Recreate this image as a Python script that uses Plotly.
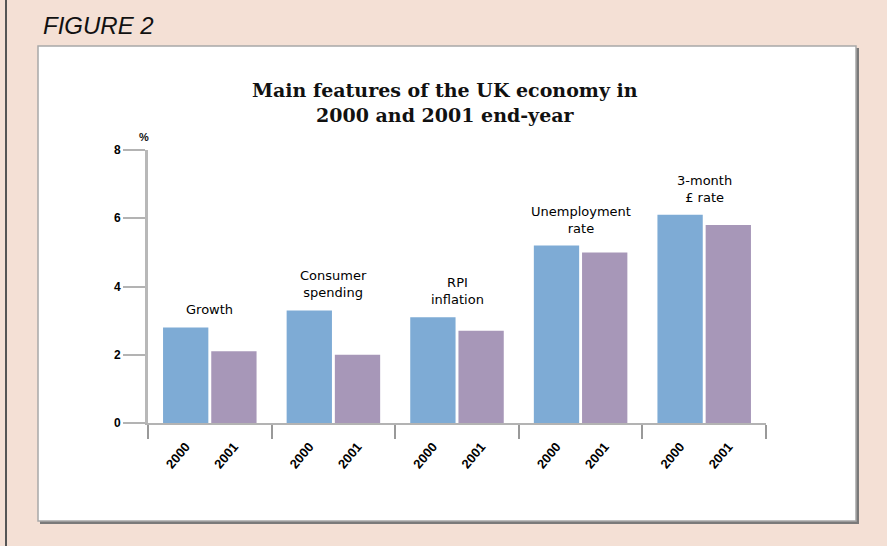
import plotly.graph_objects as go

categories = ["Growth", "Consumer<br>spending", "RPI<br>inflation", "Unemployment<br>rate", "3-month<br>£ rate"]
years = ["2000", "2001"]
values_2000 = [2.8, 3.3, 3.1, 5.2, 6.1]
values_2001 = [2.1, 2.0, 2.7, 5.0, 5.8]
y_ticks = [0, 2, 4, 6, 8]

W, H = 887, 546
L, R, T, B = 148, 766, 150, 423  # plot area in pixels


def px(x):
    return (x - L) / (R - L)


def py(y):
    return (B - y) / (B - T)


BLUE = "#7EABD5"
PURPLE = "#A797B8"
bargap = 0.22
bargroupgap = 0.06
half = (1 - bargap) / 4  # offset of bar centre from group centre

xs = list(range(len(categories)))

fig = go.Figure()
fig.add_trace(go.Bar(x=xs, y=values_2000, name="2000", marker=dict(color=BLUE, line=dict(width=0))))
fig.add_trace(go.Bar(x=xs, y=values_2001, name="2001", marker=dict(color=PURPLE, line=dict(width=0))))

tickvals = []
ticktext = []
for i in xs:
    tickvals += [i - half, i + half]
    ticktext += [f"<b>{y}</b>" for y in years]

annotations = []
for i, c in enumerate(categories):
    annotations.append(dict(
        x=i, y=max(values_2000[i], values_2001[i]), xref="x", yref="y",
        text=c, showarrow=False, yanchor="bottom", yshift=8,
        font=dict(family="DejaVu Sans", size=13, color="#000"),
        align="center"))

annotations.append(dict(
    x=px(445), y=py(103), xref="paper", yref="paper",
    text="<b>Main features of the UK economy in<br>2000 and 2001 end-year</b>",
    showarrow=False, xanchor="center", yanchor="middle",
    font=dict(family="DejaVu Serif", size=19, color="#111"), align="center"))

annotations.append(dict(
    x=px(41), y=py(25), xref="paper", yref="paper",
    text="<i>FIGURE 2</i>", showarrow=False, xanchor="left", yanchor="middle",
    font=dict(family="Liberation Sans", size=24, color="#111")))

annotations.append(dict(
    x=px(144), y=py(137), xref="paper", yref="paper",
    text="<b>%</b>", showarrow=False, xanchor="center", yanchor="middle",
    font=dict(family="Liberation Sans", size=11, color="#111")))

shapes = [
    # shadow of the white panel
    dict(type="rect", xref="paper", yref="paper", x0=px(40), x1=px(859), y0=py(48), y1=py(524),
         fillcolor="#7a7a7a", line=dict(width=0), layer="below"),
    # white panel
    dict(type="rect", xref="paper", yref="paper", x0=px(38), x1=px(856), y0=py(46), y1=py(521),
         fillcolor="white", line=dict(color="#a8a8a8", width=1.5), layer="below"),
    # left dark rule
    dict(type="line", xref="paper", yref="paper", x0=px(6), x1=px(6), y0=py(0), y1=py(546),
         line=dict(color="#555555", width=2), layer="below"),
]

fig.update_layout(
    width=W, height=H,
    margin=dict(l=L, r=W - R, t=T, b=H - B, pad=0),
    paper_bgcolor="#F4E0D5",
    plot_bgcolor="rgba(0,0,0,0)",
    barmode="group", bargap=bargap, bargroupgap=bargroupgap,
    showlegend=False,
    annotations=annotations,
    shapes=shapes,
    xaxis=dict(
        range=[-0.5, len(categories) - 0.5],
        tickmode="array", tickvals=tickvals, ticktext=ticktext,
        tickangle=-50, ticks="", ticklabelstandoff=9,
        tickfont=dict(family="Liberation Sans", size=13, color="#000"),
        showline=True, linecolor="#b3b3b3", linewidth=2,
        showgrid=False, zeroline=False,
        minor=dict(tickmode="array", tickvals=[i - 0.5 for i in range(len(categories) + 1)],
                   ticks="outside", ticklen=14, tickcolor="#999999", tickwidth=1.5, showgrid=False),
    ),
    yaxis=dict(
        range=[0, 8], tickmode="array", tickvals=y_ticks,
        ticktext=[f"<b>{v}</b>" for v in y_ticks],
        ticks="outside", ticklen=22, tickcolor="#b3b3b3", tickwidth=2,
        tickfont=dict(family="Liberation Sans", size=12, color="#000"),
        showline=True, linecolor="#b8b8b8", linewidth=3,
        showgrid=False, zeroline=False,
    ),
)

fig.write_html("out.html")
